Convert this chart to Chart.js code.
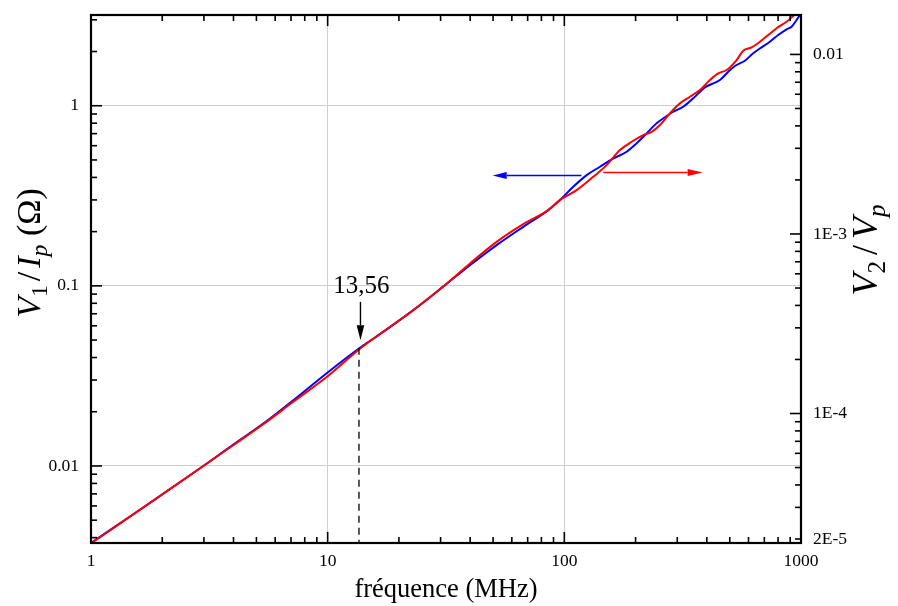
<!DOCTYPE html>
<html><head><meta charset="utf-8">
<script src="https://cdn.jsdelivr.net/npm/chart.js@4.4.1/dist/chart.umd.min.js"></script>
<style>html,body{margin:0;padding:0;background:#fff;}canvas{display:block;}</style>
</head><body>
<canvas id="c" width="898" height="606"></canvas>
<script>
// ---------- data ----------
const freqBlue = [1, 1.509, 2.088, 2.982, 3.992, 5.346, 7.155, 10.06, 13.69, 17.18, 22.99, 31.30, 39.93, 51.76, 67.06, 85.51, 95.8, 109.0, 124.3, 141.4, 158.4, 183.3, 202.0, 222.7, 245.5, 274.8, 288.5, 317.9, 350.4, 392.6, 419.1, 454.4, 492.6, 525.8, 579.4, 628.4, 681.6, 738.9, 801.0, 869.5, 912.7, 958.1, 1000];
const v1OverIp = [0.00374, 0.005391, 0.007235, 0.0100, 0.01316, 0.01720, 0.02317, 0.03328, 0.04535, 0.05552, 0.07328, 0.1009, 0.1303, 0.1683, 0.2127, 0.2634, 0.2993, 0.3548, 0.4121, 0.4583, 0.5037, 0.5553, 0.6181, 0.7026, 0.7986, 0.8878, 0.9261, 0.9872, 1.099, 1.265, 1.320, 1.389, 1.545, 1.662, 1.778, 1.955, 2.110, 2.268, 2.471, 2.658, 2.748, 2.993, 3.26];

const freqRed = [1, 1.509, 2.088, 2.982, 3.992, 5.346, 7.155, 10.06, 13.69, 17.18, 22.99, 31.30, 39.93, 51.76, 67.06, 85.51, 95.8, 112.7, 132.5, 150.9, 171.8, 192.5, 215.4, 233.8, 253.5, 279.3, 307.8, 339.3, 374.1, 412.2, 446.9, 485.1, 534.5, 570.0, 618.4, 670.6, 726.8, 788.6, 869.5, 927.0, 958.1];
const v2OverVp = [1.890e-5, 2.742e-5, 3.684e-5, 5.098e-5, 6.66e-5, 8.706e-5, 1.162e-4, 1.622e-4, 2.294e-4, 2.861e-4, 3.760e-4, 5.184e-4, 6.848e-4, 9.036e-4, 1.134e-3, 1.357e-3, 1.543e-3, 1.754e-3, 2.081e-3, 2.418e-3, 2.932e-3, 3.262e-3, 3.553e-3, 3.708e-3, 4.042e-3, 4.694e-3, 5.338e-3, 5.810e-3, 6.331e-3, 7.200e-3, 7.847e-3, 8.185e-3, 9.307e-3, 1.0486e-2, 1.095e-2, 1.177e-2, 1.283e-2, 1.398e-2, 1.522e-2, 1.637e-2, 1.695e-2];

// axis ranges and tick labels
const xRange = [1, 1000];
const leftRange = [0.003735, 3.19];
const rightRange = [1.9e-5, 0.01658];
const xLabelValues = [1, 10, 100, 1000];
const xTickLabels = ['1', '10', '100', '1000'];
const leftLabelValues = [0.01, 0.1, 1];
const leftTickLabels = ['0.01', '0.1', '1'];
const rightLabelValues = [2e-5, 1e-4, 1e-3, 1e-2];
const rightTickLabels = ['2E-5', '1E-4', '1E-3', '0.01'];

// annotations (data coordinates)
const markerFreq = 13.56;
const markerText = '13,56';
const markerCurveValue = 0.0453;   // top of dashed line (left axis units)
const markerArrowFrom = 0.0815;    // left axis units
const markerArrowTo = 0.0499;
const markerLabelValue = 0.0911;
const blueArrow = [118, 49.8, 0.41];      // from freq, to freq, left-axis value
const redArrow = [146, 384, 0.0022];      // from freq, to freq, right-axis value

// ---------- helpers ----------
const FONT = '"Liberation Serif", "Times New Roman", serif';
function logTicks(min, max) {
  const out = [];
  for (let e = Math.floor(Math.log10(min)); e <= Math.ceil(Math.log10(max)); e++) {
    for (let m = 1; m <= 9; m++) {
      const v = parseFloat((m * Math.pow(10, e)).toPrecision(6));
      if (v >= min * (1 - 1e-9) && v <= max * (1 + 1e-9)) out.push(v);
    }
  }
  return out;
}
function near(a, b) { return Math.abs(a - b) <= Math.abs(b) * 1e-6; }
function isDecade(v) { const l = Math.log10(v); return Math.abs(l - Math.round(l)) < 1e-6; }
function labelFor(v, vals, labels) {
  for (let i = 0; i < vals.length; i++) if (near(v, vals[i])) return labels[i];
  return '';
}
const xTicks = logTicks(xRange[0], xRange[1]);
const leftTicks = logTicks(leftRange[0], leftRange[1]);
const rightTicks = logTicks(rightRange[0], rightRange[1]);

function gridColorX(ctx) {
  if (!ctx.tick) return 'transparent';
  const v = ctx.tick.value;
  return (isDecade(v) && !near(v, xRange[0]) && !near(v, xRange[1])) ? '#cfcfcf' : 'transparent';
}
function gridColorY(ctx) {
  if (!ctx.tick) return 'transparent';
  return isDecade(ctx.tick.value) ? '#cfcfcf' : 'transparent';
}

function drawRich(ctx, parts, size) {
  const sub = size * 0.7;
  let w = 0;
  const items = parts.map(p => {
    const s = p.sub ? sub : size;
    const f = (p.italic ? 'italic ' : '') + s + 'px ' + FONT;
    ctx.font = f;
    const wd = ctx.measureText(p.t).width + (p.gap || 0) * 2;
    w += wd;
    return {p, f, wd};
  });
  let x = -w / 2;
  items.forEach(it => {
    ctx.font = it.f;
    ctx.fillText(it.p.t, x + (it.p.gap || 0), it.p.sub ? size * 0.22 : 0);
    x += it.wd;
  });
}
function arrow(ctx, x1, y1, x2, y2, color, len, half, lw) {
  const a = Math.atan2(y2 - y1, x2 - x1);
  const bx = x2 - Math.cos(a) * len, by = y2 - Math.sin(a) * len;
  ctx.strokeStyle = color; ctx.fillStyle = color; ctx.lineWidth = lw;
  ctx.beginPath(); ctx.moveTo(x1, y1); ctx.lineTo(bx, by); ctx.stroke();
  ctx.beginPath();
  ctx.moveTo(x2, y2);
  ctx.lineTo(bx + Math.sin(a) * half, by - Math.cos(a) * half);
  ctx.lineTo(bx - Math.sin(a) * half, by + Math.cos(a) * half);
  ctx.closePath(); ctx.fill();
}

const decor = {
  id: 'decor',
  afterDatasetsDraw(chart) {
    const {ctx, chartArea: a, scales} = chart;
    const sx = scales.x, sl = scales.yL, sr = scales.yR;
    ctx.save();
    // annotations
    const mx = sx.getPixelForValue(markerFreq);
    ctx.strokeStyle = '#000'; ctx.lineWidth = 1.3; ctx.setLineDash([7, 5]);
    ctx.beginPath(); ctx.moveTo(mx, sl.getPixelForValue(markerCurveValue)); ctx.lineTo(mx, a.bottom); ctx.stroke();
    ctx.setLineDash([]);
    arrow(ctx, mx + 1.5, sl.getPixelForValue(markerArrowFrom), mx + 1.5, sl.getPixelForValue(markerArrowTo), '#000', 15, 3.8, 1.4);
    ctx.fillStyle = '#000'; ctx.font = '25px ' + FONT; ctx.textAlign = 'center'; ctx.textBaseline = 'alphabetic';
    ctx.fillText(markerText, mx + 2.5, sl.getPixelForValue(markerLabelValue));
    arrow(ctx, sx.getPixelForValue(blueArrow[0]), sl.getPixelForValue(blueArrow[2]), sx.getPixelForValue(blueArrow[1]), sl.getPixelForValue(blueArrow[2]), '#0000ff', 14, 3.5, 1.5);
    arrow(ctx, sx.getPixelForValue(redArrow[0]), sr.getPixelForValue(redArrow[2]), sx.getPixelForValue(redArrow[1]), sr.getPixelForValue(redArrow[2]), '#ff0000', 15, 3.5, 1.5);

    // tick marks (inward)
    ctx.strokeStyle = '#000'; ctx.lineWidth = 1.6;
    const seg = (x1, y1, x2, y2) => { ctx.beginPath(); ctx.moveTo(x1, y1); ctx.lineTo(x2, y2); ctx.stroke(); };
    xTicks.forEach(v => {
      const p = sx.getPixelForValue(v), L = isDecade(v) ? 11 : 6;
      seg(p, a.bottom, p, a.bottom - L); seg(p, a.top, p, a.top + L);
    });
    leftTicks.forEach(v => { const p = sl.getPixelForValue(v), L = isDecade(v) ? 11 : 6; seg(a.left, p, a.left + L, p); });
    rightTicks.forEach(v => { const p = sr.getPixelForValue(v), L = isDecade(v) ? 11 : 6; seg(a.right, p, a.right - L, p); });
    // frame
    ctx.lineWidth = 2.2;
    ctx.strokeRect(a.left, a.top, a.right - a.left, a.bottom - a.top);

    // axis titles
    ctx.fillStyle = '#000'; ctx.textAlign = 'left'; ctx.textBaseline = 'alphabetic';
    ctx.font = '26.5px ' + FONT;
    const xt = 'fréquence (MHz)';
    ctx.fillText(xt, (a.left + a.right) / 2 - ctx.measureText(xt).width / 2, 597);

    ctx.save();
    ctx.translate(40, 253); ctx.rotate(-Math.PI / 2);
    drawRich(ctx, [{t: 'V', italic: true}, {t: '1', sub: true}, {t: '/', gap: 4}, {t: 'I', italic: true}, {t: 'p', italic: true, sub: true}, {t: ' (Ω)'}], 34);
    ctx.restore();

    ctx.save();
    ctx.translate(877, 250); ctx.rotate(-Math.PI / 2);
    drawRich(ctx, [{t: 'V', italic: true}, {t: '2', sub: true}, {t: '/', gap: 6}, {t: 'V', italic: true}, {t: 'p', italic: true, sub: true}], 36);
    ctx.restore();

    ctx.restore();
  }
};

const tickFont = {family: FONT, size: 17.5};
const zeroPad = s => { s.paddingTop = 0; s.paddingBottom = 0; s.paddingLeft = 0; s.paddingRight = 0; };
new Chart(document.getElementById('c'), {
  type: 'scatter',
  data: {
    datasets: [
      {
        label: 'V2/Vp', yAxisID: 'yR', order: 0,
        data: freqRed.map((f, i) => ({x: f, y: v2OverVp[i]})),
        borderColor: '#ff0000', borderWidth: 2, showLine: true, pointRadius: 0,
        cubicInterpolationMode: 'monotone'
      },
      {
        label: 'V1/Ip', yAxisID: 'yL', order: 1,
        data: freqBlue.map((f, i) => ({x: f, y: v1OverIp[i]})),
        borderColor: '#0000ff', borderWidth: 2, showLine: true, pointRadius: 0,
        cubicInterpolationMode: 'monotone'
      }
    ]
  },
  options: {
    responsive: false, devicePixelRatio: 1, animation: false,
    layout: {padding: {top: 15, left: 0, right: 0, bottom: 0}},
    plugins: {legend: {display: false}, tooltip: {enabled: false}},
    scales: {
      x: {
        type: 'logarithmic', position: 'bottom', min: xRange[0], max: xRange[1],
        afterBuildTicks: s => { s.ticks = xTicks.map(v => ({value: v})); },
        afterFit: s => { s.height = 63; zeroPad(s); },
        ticks: {autoSkip: false, maxRotation: 0, padding: 8, font: tickFont, color: '#000',
                callback: v => labelFor(v, xLabelValues, xTickLabels)},
        grid: {drawTicks: false, color: gridColorX, lineWidth: 1},
        border: {display: false}
      },
      yL: {
        type: 'logarithmic', position: 'left', min: leftRange[0], max: leftRange[1],
        afterBuildTicks: s => { s.ticks = leftTicks.map(v => ({value: v})); },
        afterFit: s => { s.width = 91; zeroPad(s); },
        ticks: {autoSkip: false, padding: 12, font: tickFont, color: '#000',
                callback: v => labelFor(v, leftLabelValues, leftTickLabels)},
        grid: {drawTicks: false, color: gridColorY, lineWidth: 1},
        border: {display: false}
      },
      yR: {
        type: 'logarithmic', position: 'right', min: rightRange[0], max: rightRange[1],
        afterBuildTicks: s => { s.ticks = rightTicks.map(v => ({value: v})); },
        afterFit: s => { s.width = 97; zeroPad(s); },
        ticks: {autoSkip: false, padding: 12, font: tickFont, color: '#000',
                callback: v => labelFor(v, rightLabelValues, rightTickLabels)},
        grid: {display: false, drawTicks: false},
        border: {display: false}
      }
    }
  },
  plugins: [decor]
});
</script>
</body></html>
